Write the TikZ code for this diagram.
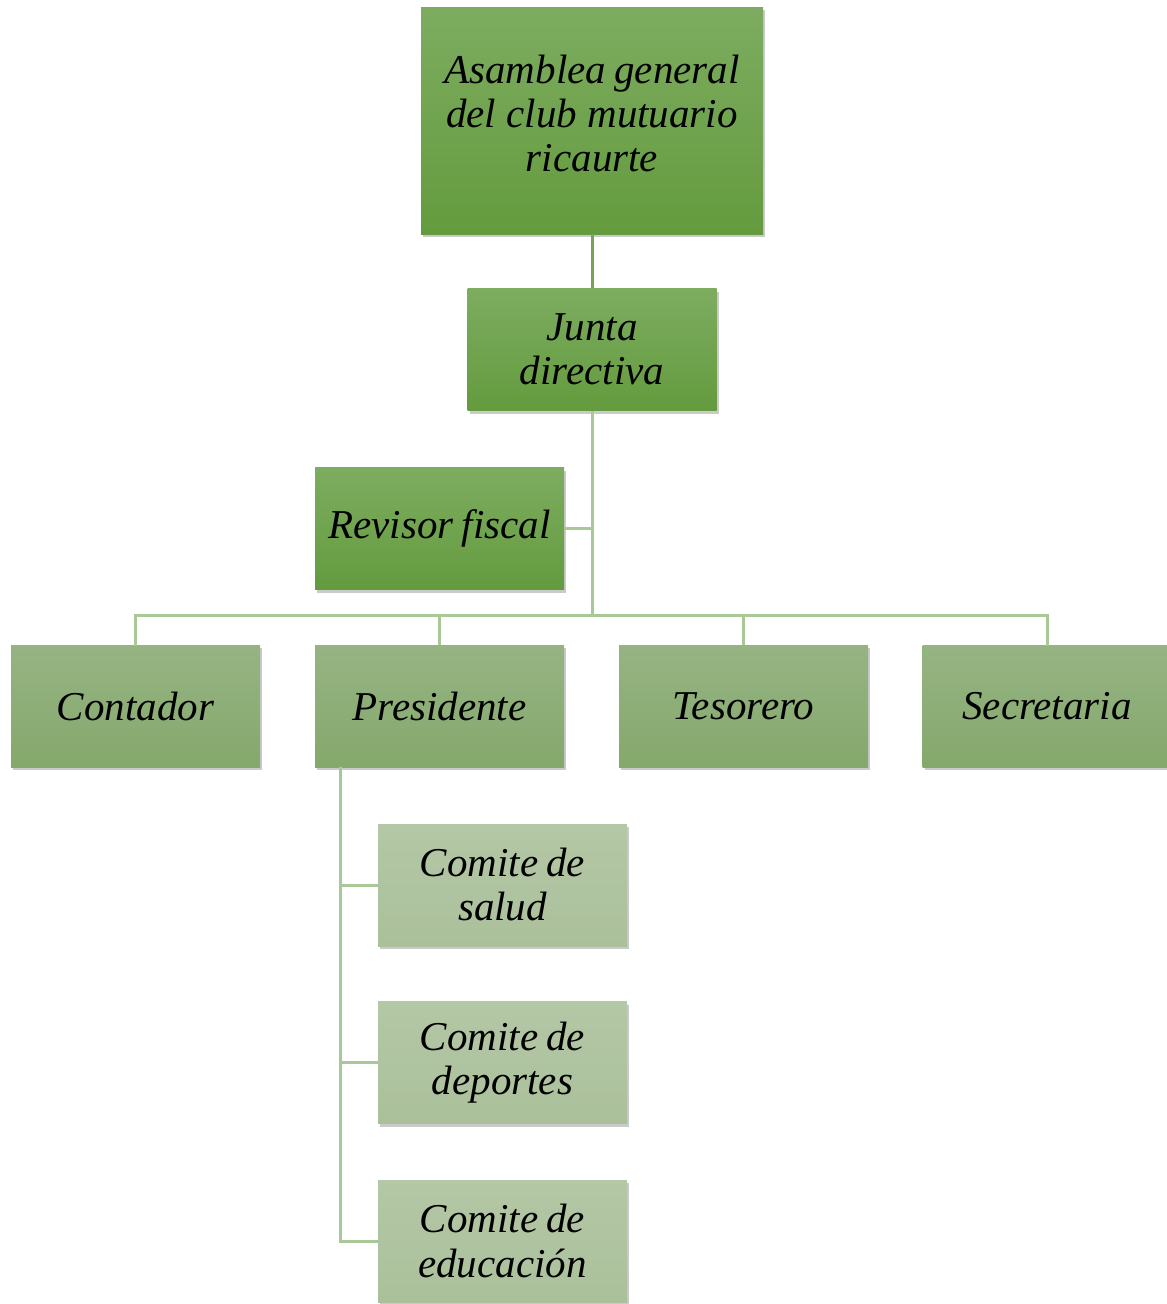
\documentclass[tikz,border=0pt]{standalone}
\usepackage{fontspec}
\setmainfont{Liberation Serif}
\usetikzlibrary{shadows}
\definecolor{dtop}{RGB}{125,172,96}
\definecolor{dbot}{RGB}{100,155,62}
\definecolor{mtop}{RGB}{150,180,131}
\definecolor{mbot}{RGB}{133,168,108}
\definecolor{ltop}{RGB}{180,199,166}
\definecolor{lbot}{RGB}{170,192,154}
\definecolor{lineclr}{RGB}{169,200,152}
\definecolor{darkline}{RGB}{118,163,88}
\newcommand\myboxfont{\fontsize{41}{44}\selectfont\itshape}
\newcommand\mysp{\spaceskip=0.2em\relax}
\tikzset{
  boxfont/.style={font=\myboxfont},
  box/.style={rectangle, minimum width=249pt, minimum height=122pt, inner sep=0pt,
    align=center, text width=245pt, boxfont,
    drop shadow={shadow xshift=2pt, shadow yshift=-3pt, opacity=0.35, fill=black!60}},
  darkbox/.style={box, top color=dtop, bottom color=dbot},
  midbox/.style={box, top color=mtop, bottom color=mbot},
  lightbox/.style={box, top color=ltop, bottom color=lbot},
  conn/.style={draw=lineclr, line width=3pt},
}
\begin{document}
\begin{tikzpicture}[x=1pt,y=-1pt]
\useasboundingbox (0,0) rectangle (1167,1304);
% nodes
\node[darkbox, minimum width=342pt, minimum height=227pt, text width=330pt] (asam) at (592,120.5) {};
\node[boxfont, align=center] (asamt) at (592,114) {\mysp Asamblea general\\del club mutuario\\ricaurte};
\node[darkbox] (junta) at (592,349.5) {Junta\\directiva};
\node[darkbox] (rev) at (439.5,528.5) {\mysp Revisor fiscal};
\node[midbox] (cont) at (135.5,706) {Contador};
\node[midbox] (pres) at (439.5,706) {Presidente};
\node[midbox] (tes) at (743.5,706) {Tesorero};
\node[midbox] (sec) at (1047,706) {Secretaria};
\node[lightbox] (salud) at (502.5,885) {\mysp Comite de\\salud};
\node[lightbox] (dep) at (502.5,1062.5) {\mysp Comite de\\deportes};
\node[lightbox] (edu) at (502.5,1241) {\mysp Comite de\\educación};
% coordinates
\coordinate (bus) at (592,615);
\coordinate (pl) at (340,767);
% connectors
\draw[draw=darkline, line width=3pt] (asam.south) -- (junta.north);
\draw[conn] (junta.south) -- (bus);
\draw[conn] (rev.east) -- (rev.east -| bus);
\draw[conn, line cap=rect] (cont.north) |- (sec.north |- bus) -- (sec.north);
\draw[conn] (pres.north) -- (pres.north |- bus);
\draw[conn] (tes.north) -- (tes.north |- bus);
\draw[conn] (pl) -- (pl |- edu.west) -- (edu.west);
\draw[conn] (pl |- salud.west) -- (salud.west);
\draw[conn] (pl |- dep.west) -- (dep.west);
\end{tikzpicture}
\end{document}
